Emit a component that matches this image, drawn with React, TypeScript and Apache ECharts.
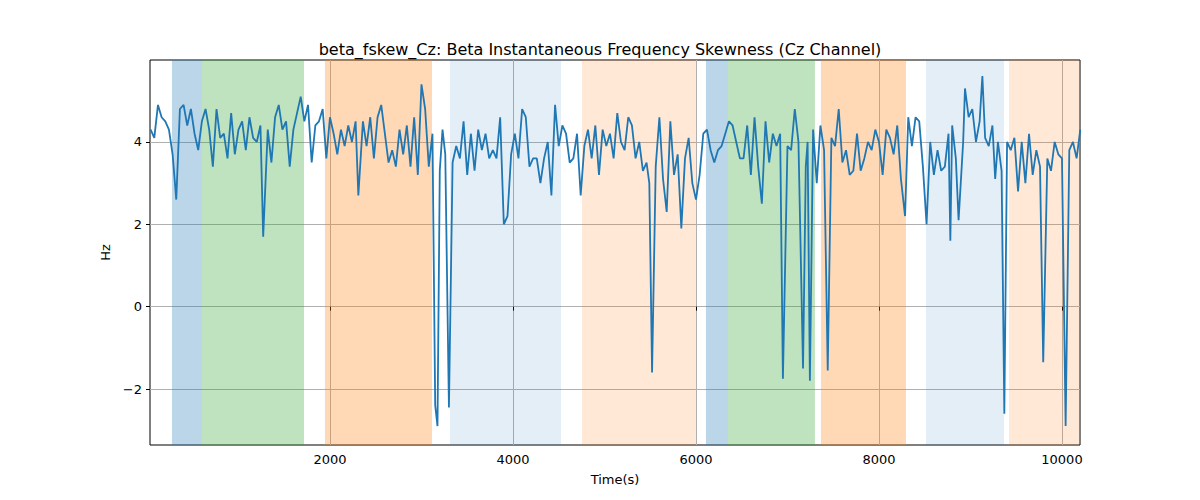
import { useEffect, useRef } from 'react'
import * as echarts from 'echarts'

// time(s) / value pairs
const samples: [number, number][] = [
  [40, 4.3], [80, 4.1], [120, 4.9], [160, 4.6], [200, 4.5], [240, 4.3], [280, 3.7], [320, 2.6],
  [360, 4.8], [400, 4.9], [440, 4.4], [480, 4.8], [520, 4.2], [560, 3.8], [600, 4.5], [640, 4.8],
  [680, 4.3], [720, 3.4], [760, 4.8], [800, 4.1], [840, 4.2], [880, 3.6], [920, 4.7], [960, 3.7],
  [1000, 4.3], [1040, 4.5], [1080, 3.8], [1120, 4.6], [1160, 4.1], [1200, 4.0], [1240, 4.4], [1270, 1.7],
  [1320, 4.3], [1360, 3.5], [1400, 4.6], [1440, 4.9], [1480, 4.3], [1520, 4.5], [1560, 3.4], [1600, 4.3],
  [1640, 4.7], [1680, 5.1], [1720, 4.5], [1760, 4.9], [1800, 3.5], [1840, 4.4], [1880, 4.5], [1920, 4.8],
  [1960, 3.6], [2000, 4.6], [2040, 4.2], [2080, 3.7], [2120, 4.3], [2160, 3.9], [2200, 4.4], [2240, 4.0],
  [2280, 4.5], [2310, 2.7], [2360, 4.5], [2400, 3.9], [2440, 4.6], [2480, 3.6], [2520, 4.6], [2560, 4.9],
  [2600, 4.2], [2640, 3.5], [2680, 3.8], [2720, 3.4], [2760, 4.3], [2800, 3.7], [2840, 4.4], [2880, 3.4],
  [2920, 4.6], [2960, 3.2], [3000, 5.4], [3040, 4.8], [3080, 3.4], [3120, 4.2], [3150, -2.4], [3175, -2.9],
  [3200, 3.3], [3230, 4.3], [3260, 3.7], [3300, -2.45], [3340, 3.5], [3380, 3.9], [3420, 3.6], [3460, 4.5],
  [3500, 3.2], [3540, 4.2], [3580, 3.3], [3620, 4.3], [3660, 3.8], [3700, 4.2], [3740, 3.6], [3780, 3.8],
  [3820, 3.6], [3860, 4.6], [3900, 2.0], [3940, 2.2], [3980, 3.7], [4020, 4.2], [4060, 3.6], [4100, 4.8],
  [4140, 4.6], [4180, 3.4], [4220, 3.6], [4260, 3.6], [4300, 3.0], [4340, 3.6], [4380, 4.0], [4420, 2.7],
  [4460, 4.9], [4500, 3.9], [4540, 4.4], [4580, 4.2], [4620, 3.5], [4660, 3.6], [4700, 4.2], [4740, 2.7],
  [4780, 3.9], [4820, 4.3], [4860, 3.6], [4900, 4.4], [4940, 3.2], [4980, 4.3], [5020, 3.9], [5060, 4.2],
  [5100, 3.6], [5140, 4.7], [5180, 4.0], [5220, 3.8], [5260, 4.6], [5300, 4.4], [5340, 3.6], [5380, 4.0],
  [5420, 3.3], [5460, 3.5], [5490, 3.0], [5520, -1.6], [5560, 3.4], [5600, 4.6], [5640, 3.1], [5680, 2.3],
  [5720, 4.5], [5760, 3.2], [5800, 3.7], [5840, 1.9], [5880, 3.6], [5920, 4.1], [5960, 3.0], [6000, 2.6],
  [6040, 3.2], [6080, 4.2], [6120, 4.3], [6160, 3.8], [6200, 3.5], [6240, 3.8], [6280, 3.9], [6320, 4.2],
  [6360, 4.5], [6400, 4.4], [6440, 4.0], [6480, 3.6], [6520, 3.6], [6560, 4.4], [6600, 3.2], [6640, 4.6],
  [6680, 3.4], [6720, 2.5], [6760, 4.5], [6800, 3.5], [6840, 4.2], [6880, 3.9], [6920, 4.2], [6950, -1.75],
  [7000, 3.9], [7040, 3.8], [7080, 4.8], [7120, 4.0], [7170, -1.5], [7200, 3.4], [7220, 4.0], [7245, -1.8],
  [7280, 4.3], [7320, 3.0], [7360, 4.4], [7400, 3.8], [7440, -1.55], [7480, 4.1], [7520, 3.9], [7560, 4.8],
  [7600, 3.5], [7640, 3.8], [7680, 3.2], [7720, 3.3], [7760, 4.2], [7800, 3.3], [7840, 3.6], [7880, 4.0],
  [7920, 3.8], [7960, 4.3], [8000, 4.0], [8040, 3.2], [8080, 4.3], [8120, 4.1], [8160, 3.7], [8200, 4.4],
  [8240, 3.1], [8285, 2.2], [8320, 4.6], [8360, 3.9], [8400, 4.6], [8440, 4.5], [8480, 3.4], [8520, 2.0],
  [8560, 4.0], [8600, 3.2], [8640, 3.8], [8680, 3.3], [8720, 3.4], [8760, 4.2], [8780, 1.6], [8800, 4.4],
  [8840, 3.6], [8870, 2.1], [8920, 4.0], [8940, 5.3], [8980, 4.6], [9020, 4.8], [9060, 4.0], [9100, 4.5],
  [9130, 5.6], [9160, 4.1], [9200, 3.9], [9240, 4.4], [9270, 3.1], [9300, 4.0], [9340, 3.3], [9370, -2.6],
  [9400, 4.0], [9440, 3.8], [9480, 4.1], [9520, 2.8], [9560, 4.0], [9600, 3.0], [9640, 4.2], [9680, 3.2],
  [9720, 3.8], [9760, 3.4], [9795, -1.35], [9840, 3.6], [9880, 3.3], [9920, 4.0], [9960, 3.7], [10000, 3.6],
  [10040, -2.9], [10080, 3.8], [10120, 4.0], [10160, 3.6], [10200, 4.3]
]

// shaded stages: [start, end, colour]
const bands: [number, number, string][] = [
  [273, 601, 'rgba(31,119,180,0.3)'],
  [601, 1716, 'rgba(44,160,44,0.3)'],
  [1945, 3115, 'rgba(255,127,14,0.3)'],
  [3311, 4525, 'rgba(31,119,180,0.12)'],
  [4754, 6000, 'rgba(255,127,14,0.17)'],
  [6109, 6350, 'rgba(31,119,180,0.3)'],
  [6350, 7300, 'rgba(44,160,44,0.3)'],
  [7366, 8295, 'rgba(255,127,14,0.3)'],
  [8514, 9366, 'rgba(31,119,180,0.12)'],
  [9421, 10197, 'rgba(255,127,14,0.17)']
]

const xTicks = [2000, 4000, 6000, 8000, 10000]
const yTicks = [-2, 0, 2, 4]

const App = () => {
  const ref = useRef<HTMLDivElement>(null)

  useEffect(() => {
    if (!ref.current) return
    const chart = echarts.init(ref.current, null, { renderer: 'svg' })
    const font = 'DejaVu Sans'
    chart.setOption({
      animation: false,
      textStyle: { fontFamily: font },
      title: {
        text: 'beta_fskew_Cz: Beta Instantaneous Frequency Skewness (Cz Channel)',
        left: 'center', top: 28,
        textStyle: { fontFamily: font, fontSize: 16, fontWeight: 'normal', color: '#000' }
      },
      grid: { left: 142, right: 112, top: 52, bottom: 47, show: true, borderColor: '#000', borderWidth: 1 },
      xAxis: {
        type: 'value', min: 33, max: 10197,
        name: 'Time(s)', nameLocation: 'middle', nameGap: 28,
        nameTextStyle: { fontFamily: font, fontSize: 13, color: '#000' },
        axisLine: { show: false },
        axisTick: { show: true, customValues: xTicks, length: 4, lineStyle: { color: '#000' } },
        axisLabel: { customValues: xTicks, fontFamily: font, fontSize: 13, color: '#000', formatter: (v: number) => String(v) },
        splitLine: { show: true, lineStyle: { color: '#b0b0b0', width: 1 } }
      },
      yAxis: {
        type: 'value', min: -3.36, max: 5.99,
        name: 'Hz', nameLocation: 'middle', nameGap: 38,
        nameTextStyle: { fontFamily: font, fontSize: 13, color: '#000' },
        axisLine: { show: false },
        axisTick: { show: true, customValues: yTicks, length: 4, lineStyle: { color: '#000' } },
        axisLabel: { customValues: yTicks, fontFamily: font, fontSize: 13, color: '#000', formatter: (v: number) => String(v).replace('-', '\u2212') },
        splitLine: { show: true, lineStyle: { color: '#b0b0b0', width: 1 } }
      },
      series: [{
        type: 'line',
        data: samples,
        showSymbol: false,
        lineStyle: { color: '#1f77b4', width: 1.8 },
        itemStyle: { color: '#1f77b4' },
        z: 3,
        markArea: {
          silent: true,
          data: bands.map(([a, b, c]) => [
            { xAxis: a, itemStyle: { color: c } },
            { xAxis: b }
          ])
        }
      }]
    })
    return () => chart.dispose()
  }, [])

  return <div ref={ref} style={{ width: 1184, height: 484 }} />
}

export default App
